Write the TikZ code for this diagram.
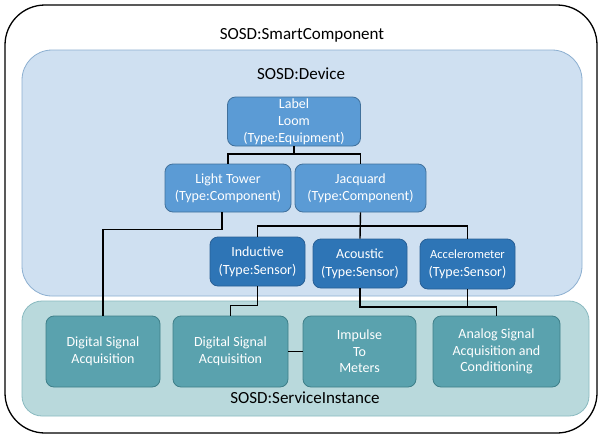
\documentclass[tikz,border=0pt]{standalone}
\usepackage{fontspec}
\setmainfont{Carlito}
\definecolor{devfill}{RGB}{207,224,241}
\definecolor{devline}{RGB}{140,175,208}
\definecolor{blkfill}{RGB}{91,155,213}
\definecolor{blkline}{RGB}{65,113,156}
\definecolor{sensfill}{RGB}{46,117,182}
\definecolor{sensline}{RGB}{40,95,150}
\definecolor{srvfill}{RGB}{185,217,220}
\definecolor{srvline}{RGB}{138,186,192}
\definecolor{svcfill}{RGB}{90,162,174}
\definecolor{svcline}{RGB}{62,127,137}
\tikzset{
  box/.style={rectangle, rounded corners=8pt, inner sep=0pt, align=center,
    text=white, line width=0.8pt, font=\fontsize{14}{17}\selectfont},
  compbox/.style={box, fill=blkfill, draw=blkline},
  sensbox/.style={box, fill=sensfill, draw=sensline, font=\fontsize{14}{18}\selectfont},
  svcbox/.style={box, fill=svcfill, draw=svcline, font=\fontsize{14}{16.5}\selectfont},
  title/.style={font=\fontsize{17}{20}\selectfont, text=black},
  link/.style={draw=black, line width=1.4pt}
}
\begin{document}
\begin{tikzpicture}[x=1pt, y=-1pt]
\useasboundingbox (0,0) rectangle (600,437);
% containers
\draw[line width=1.3pt, rounded corners=40pt, fill=white] (5,5) rectangle (597,433);
\node[title] (tsmart) at (302,35) {SOSD:SmartComponent};
\draw[devline, fill=devfill, line width=0.8pt, rounded corners=30pt] (22,50) rectangle (582,296);
\node[title] (tdev) at (301,74) {SOSD:Device};
\draw[srvline, fill=srvfill, line width=0.8pt, rounded corners=20pt] (22,301) rectangle (589,416);
\node[title] (tsrv) at (305,398) {SOSD:ServiceInstance};
% device nodes
\node[compbox, minimum width=133pt, minimum height=49pt] (loom) at (294,121.5) {Label\\Loom\\(Type:Equipment)};
\node[compbox, minimum width=126pt, minimum height=48pt] (lt) at (228,188) {Light Tower\\(Type:Component)};
\node[compbox, minimum width=131pt, minimum height=48pt] (jq) at (360.5,188) {Jacquard\\(Type:Component)};
\node[sensbox, minimum width=95pt, minimum height=49pt] (ind) at (257.5,261.5) {Inductive\\(Type:Sensor)};
\node[sensbox, minimum width=94pt, minimum height=49pt] (ac) at (360,263.5) {Acoustic\\(Type:Sensor)};
\node[sensbox, minimum width=95pt, minimum height=50pt] (acc) at (467.5,264) {{\fontsize{12.5}{18}\selectfont Accelerometer}\\(Type:Sensor)};
% service nodes
\node[svcbox, minimum width=114pt, minimum height=71pt] (dsa1) at (103,351.5) {Digital Signal\\Acquisition};
\node[svcbox, minimum width=115pt, minimum height=71pt] (dsa2) at (230.5,351.5) {Digital Signal\\Acquisition};
\node[svcbox, minimum width=113pt, minimum height=71pt] (imp) at (359.5,351.5) {Impulse\\To\\Meters};
\node[svcbox, minimum width=127pt, minimum height=71pt] (an) at (496.5,351.5) {Analog Signal\\Acquisition and\\Conditioning};
% connectors
\coordinate (j1) at (294,154);
\draw[link] (loom.south) -- (j1) -| (lt.north);
\draw[link] (j1) -| (jq.north);
\draw[link] ([xshift=-6pt]lt.south) -- ++(0,17) -| (dsa1.north);
\coordinate (j2) at (360,226);
\draw[link] (jq.south) -- (ac.north);
\draw[link] (ind.north) |- (j2) -| (acc.north);
\draw[link] (ind.south) -- ++(0,19) -| (dsa2.north);
\coordinate (j3) at (360,307);
\draw[link] (ac.south) -- (j3) -| (an.north);
\draw[link] (acc.south) -- (acc.south |- j3);
\draw[link] (dsa2.east) -- (imp.west);
\end{tikzpicture}
\end{document}
